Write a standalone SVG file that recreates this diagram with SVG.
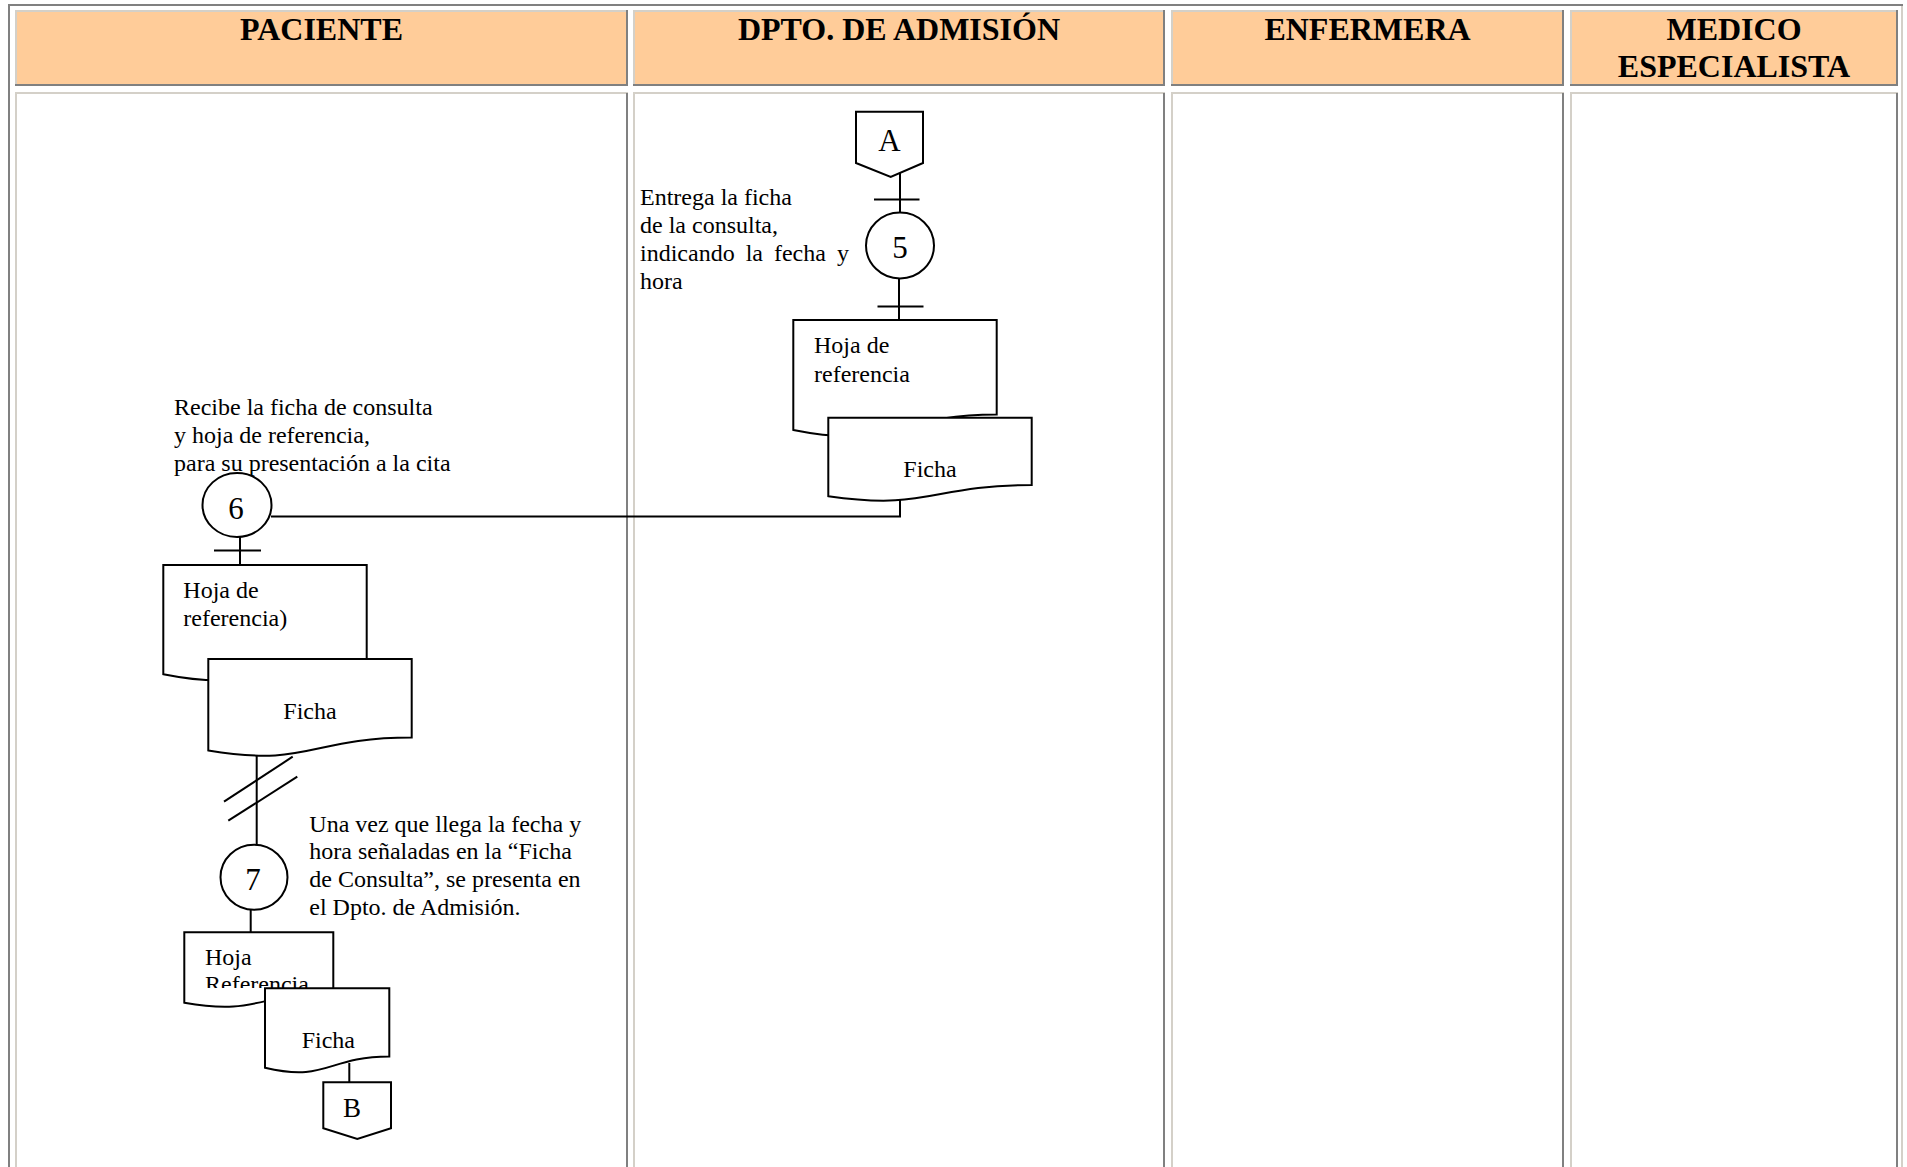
<svg xmlns="http://www.w3.org/2000/svg" width="1907" height="1167" viewBox="0 0 1907 1167">
  <style>
    .hdr { fill: #ffcc99; }
    .body { fill: #ffffff; }
    .lt { fill: none; stroke: #d4d0c8; stroke-width: 2; }
    .dk { fill: none; stroke: #808080; stroke-width: 2; }
    .title { font-family: "Liberation Serif", "Times New Roman", serif; font-weight: bold; font-size: 32px; fill: #000; text-anchor: middle; }
    .txt { font-family: "Liberation Serif", "Times New Roman", serif; font-size: 24px; fill: #000; }
    .num { font-family: "Liberation Serif", "Times New Roman", serif; font-size: 31px; fill: #000; text-anchor: middle; }
    .shape { fill: #ffffff; stroke: #000; stroke-width: 2; }
    .line { fill: none; stroke: #000; stroke-width: 2; }
  </style>
  <defs>
    <clipPath id="clipRef">
      <rect x="180" y="930" width="160" height="58"/>
    </clipPath>
  </defs>

  <rect x="0" y="0" width="1907" height="1167" fill="#ffffff"/>

  <!-- table frame -->
  <g id="table">
    <path class="dk" d="M9,1167 V5 H1903"/>
    <path class="lt" d="M1902,6 V1167"/>

    <!-- header row -->
    <rect class="hdr" x="15" y="10" width="613" height="76"/>
    <path class="lt" d="M16,86 V11 H628"/>
    <path class="dk" d="M15,85 H627 V10"/>
    <rect class="hdr" x="633" y="10" width="532" height="76"/>
    <path class="lt" d="M634,86 V11 H1165"/>
    <path class="dk" d="M633,85 H1164 V10"/>
    <rect class="hdr" x="1171" y="10" width="393" height="76"/>
    <path class="lt" d="M1172,86 V11 H1564"/>
    <path class="dk" d="M1171,85 H1563 V10"/>
    <rect class="hdr" x="1570" y="10" width="328" height="76"/>
    <path class="lt" d="M1571,86 V11 H1898"/>
    <path class="dk" d="M1570,85 H1897 V10"/>

    <!-- body row -->
    <path class="lt" d="M16,1170 V93 H628"/>
    <path class="dk" d="M627,93 V1170"/>
    <path class="lt" d="M634,1170 V93 H1165"/>
    <path class="dk" d="M1164,93 V1170"/>
    <path class="lt" d="M1172,1170 V93 H1564"/>
    <path class="dk" d="M1563,93 V1170"/>
    <path class="lt" d="M1571,1170 V93 H1898"/>
    <path class="dk" d="M1897,93 V1170"/>

    <text class="title" x="321.5" y="40">PACIENTE</text>
    <text class="title" x="899" y="40">DPTO. DE ADMISIÓN</text>
    <text class="title" x="1367.5" y="40">ENFERMERA</text>
    <text class="title" x="1734" y="40">MEDICO</text>
    <text class="title" x="1734" y="77">ESPECIALISTA</text>
  </g>

  <!-- connectors -->
  <g id="connectors">
    <line class="line" x1="900" y1="173" x2="900" y2="213"/>
    <line class="line" x1="874" y1="199.5" x2="919.5" y2="199.5"/>
    <line class="line" x1="899" y1="278" x2="899" y2="320"/>
    <line class="line" x1="877.5" y1="306.5" x2="923.5" y2="306.5"/>
    <line class="line" x1="900" y1="496" x2="900" y2="517"/>
    <line class="line" x1="271" y1="516.5" x2="901" y2="516.5"/>
    <line class="line" x1="240" y1="537" x2="240" y2="565"/>
    <line class="line" x1="214" y1="550.5" x2="261" y2="550.5"/>
    <line class="line" x1="256.7" y1="755" x2="256.7" y2="845"/>
    <line class="line" x1="224" y1="801.7" x2="292.7" y2="756.7"/>
    <line class="line" x1="228.3" y1="820.7" x2="297.3" y2="776.7"/>
    <line class="line" x1="250.7" y1="909.5" x2="250.7" y2="932.3"/>
    <line class="line" x1="349.3" y1="1063" x2="349.3" y2="1082.3"/>
  </g>

  <!-- off-page connector A -->
  <g id="conn-a">
    <polygon class="shape" points="856,111.7 923,111.7 923,163 890.7,177 856,163"/>
    <text class="num" x="889.5" y="151">A</text>
  </g>

  <!-- step 5 -->
  <g id="step-5">
    <ellipse class="shape" cx="900" cy="245.5" rx="34" ry="33"/>
    <text class="num" x="900" y="257.5">5</text>
    <text class="txt" x="640" y="205">Entrega la ficha</text>
    <text class="txt" x="640" y="233">de la consulta,</text>
    <text class="txt" x="640" y="261" word-spacing="5">indicando la fecha y</text>
    <text class="txt" x="640" y="289">hora</text>
  </g>

  <!-- documents in admission -->
  <g id="doc-hoja-adm">
    <path class="shape" d="M793.3,320 H996.7 V414.5 C895,414.5 895,450.4 793.3,430 Z"/>
    <text class="txt" x="814" y="353">Hoja de</text>
    <text class="txt" x="814" y="381.5">referencia</text>
  </g>
  <g id="doc-ficha-adm">
    <path class="shape" d="M828.3,417.7 H1031.7 V485.1 C930,485.1 930,510.7 828.3,496.2 Z"/>
    <text class="txt" x="903.3" y="477">Ficha</text>
  </g>

  <!-- step 6 -->
  <g id="step-6">
    <ellipse class="shape" cx="237" cy="505" rx="34.5" ry="32"/>
    <text class="num" x="236" y="518.5">6</text>
    <text class="txt" x="174" y="415">Recibe la ficha de consulta</text>
    <text class="txt" x="174" y="443">y hoja de referencia,</text>
    <text class="txt" x="174" y="470.5">para su presentación a la cita</text>
  </g>

  <!-- documents received by the patient -->
  <g id="doc-hoja-pac">
    <path class="shape" d="M163.3,565 H366.7 V658.8 C265,658.8 265,694.5 163.3,674.3 Z"/>
    <text class="txt" x="183.3" y="598.3">Hoja de</text>
    <text class="txt" x="183.3" y="626">referencia)</text>
  </g>
  <g id="doc-ficha-pac">
    <path class="shape" d="M208.3,659 H411.7 V737.6 C310,737.6 310,767.5 208.3,750.5 Z"/>
    <text class="txt" x="283.3" y="719.3">Ficha</text>
  </g>

  <!-- step 7 -->
  <g id="step-7">
    <ellipse class="shape" cx="254" cy="877.3" rx="33.5" ry="32.5"/>
    <text class="num" x="253" y="889.5">7</text>
    <text class="txt" x="309.3" y="831.7">Una vez que llega la fecha y</text>
    <text class="txt" x="309.3" y="859.3">hora señaladas en la “Ficha</text>
    <text class="txt" x="309.3" y="886.7">de Consulta”, se presenta en</text>
    <text class="txt" x="309.3" y="915">el Dpto. de Admisión.</text>
  </g>

  <!-- documents presented at admission -->
  <g id="doc-hoja-ref">
    <path class="shape" d="M184.3,932.3 H333.3 V992.8 C258.8,992.8 258.8,1015.8 184.3,1002.7 Z"/>
    <text class="txt" x="205" y="965">Hoja</text>
    <text class="txt" x="205" y="992" clip-path="url(#clipRef)">Referencia</text>
  </g>
  <g id="doc-ficha-ref">
    <path class="shape" d="M265,988.3 H389.3 V1056.5 C327.2,1056.5 327.2,1082.4 265,1067.7 Z"/>
    <text class="txt" x="301.7" y="1048.3">Ficha</text>
  </g>

  <!-- off-page connector B -->
  <g id="conn-b">
    <polygon class="shape" points="323.3,1082.3 391,1082.3 391,1128.3 357.3,1139 323.3,1128.3"/>
    <text class="num" x="352" y="1116.5" style="font-size:27px">B</text>
  </g>
</svg>
